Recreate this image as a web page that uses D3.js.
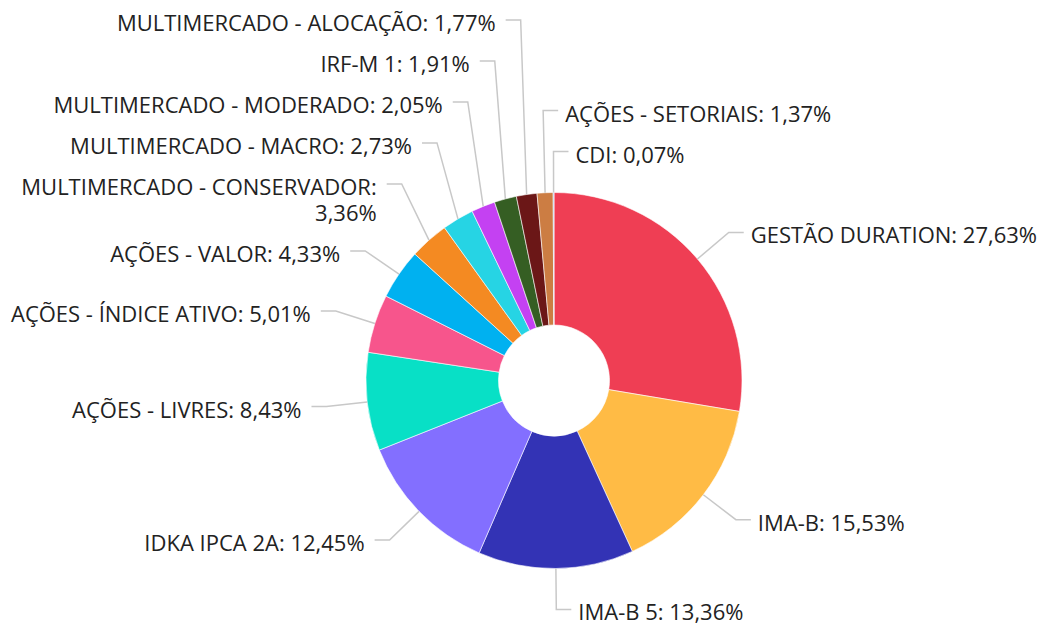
<!DOCTYPE html>
<html>
<head>
<meta charset="utf-8">
<script src="https://cdn.jsdelivr.net/npm/d3@7"></script>
<style>
  body { margin: 0; background: #fff; }
</style>
</head>
<body>
<div id="chart"></div>
<script>
// data
const categories = [
  "GESTÃO DURATION", "IMA-B", "IMA-B 5", "IDKA IPCA 2A", "AÇÕES - LIVRES",
  "AÇÕES - ÍNDICE ATIVO", "AÇÕES - VALOR", "MULTIMERCADO - CONSERVADOR",
  "MULTIMERCADO - MACRO", "MULTIMERCADO - MODERADO", "IRF-M 1",
  "MULTIMERCADO - ALOCAÇÃO", "AÇÕES - SETORIAIS", "CDI"
];
const values = [27.63, 15.53, 13.36, 12.45, 8.43, 5.01, 4.33, 3.36, 2.73, 2.05, 1.91, 1.77, 1.37, 0.07];
const colors = [
  "#ef3e54", "#ffbb45", "#3333b5", "#836fff", "#08e0c6", "#f7558c", "#00b1f0",
  "#f48a22", "#26d4e4", "#c441f2", "#355e23", "#6b1717", "#cc7d43", "#7cb5ec"
];

const width = 1041, height = 625;
const cx = 554, cy = 380.5;
const radius = 188, inner = 55.5;
const labelDist = 41;          // from the rim to the connector elbow
const labelR = radius + labelDist;
const hookLen = 15;            // horizontal part of the connector
const lineSep = 41, lineHeight = 26;

const locale = d3.formatLocale({ decimal: ",", thousands: ".", grouping: [3], currency: ["", ""] });
const fmt = locale.format(".2f");

const data = categories.map((name, i) => ({ name, value: values[i], color: colors[i] }));

const svg = d3.select("#chart")
  .append("svg")
  .attr("width", width)
  .attr("height", height)
  .attr("font-family", "'Open Sans', 'Noto Sans', sans-serif")
  .attr("font-size", 22);

const pie = d3.pie().sort(null).value(d => d.value);
const arcs = pie(data);

const arc = d3.arc().innerRadius(inner).outerRadius(radius);

const g = svg.append("g").attr("transform", `translate(${cx},${cy})`);

g.selectAll("path")
  .data(arcs)
  .join("path")
  .attr("d", arc)
  .attr("fill", d => d.data.color)
  .attr("stroke", "#fff")
  .attr("stroke-width", 0.6);

// label layout: x from the slice's own angle, y pushed apart per side
let labels = arcs.map(d => {
  let mid = (d.startAngle + d.endAngle) / 2;
  let s = Math.sin(mid), c = Math.cos(mid);
  let left = s < -0.1;   // the slices right at the top go to the right side
  return {
    d,
    mid,
    left,
    order: left ? -mid : (mid > Math.PI ? mid - 2 * Math.PI : mid),
    ax: cx + s * radius, ay: cy - c * radius,
    ex: cx + s * labelR,
    y: cy - c * labelR,
    text: `${d.data.name}: ${fmt(d.data.value)}%`,
    lines: null
  };
});

// measure for wrapping
let measure = svg.append("text").attr("visibility", "hidden");
labels.forEach(l => {
  measure.text(l.text);
  let w = measure.node().getComputedTextLength();
  let room = l.left ? l.ex - hookLen - 10 - 5 : width - (l.ex + hookLen + 7) - 2;
  if (w > room) {
    let k = l.text.lastIndexOf(" ");
    l.lines = [l.text.slice(0, k), l.text.slice(k + 1)];
  } else {
    l.lines = [l.text];
  }
});
measure.remove();

[true, false].forEach(side => {
  let list = labels.filter(l => l.left === side).sort((a, b) => a.order - b.order);
  for (let i = list.length - 2; i >= 0; i--) {
    let sep = lineSep + (list[i].lines.length - 1) * lineHeight;
    list[i].y = Math.min(list[i].y, list[i + 1].y - sep);
  }
});

let lg = svg.append("g");

lg.selectAll("path")
  .data(labels)
  .join("path")
  .attr("fill", "none")
  .attr("stroke", "#c8c8c8")
  .attr("stroke-width", 1.5)
  .attr("d", l => {
    let endX = l.ex + (l.left ? -hookLen : hookLen);
    return `M${l.ax},${l.ay}L${l.ex},${l.y}L${endX},${l.y}`;
  });

lg.selectAll("text")
  .data(labels)
  .join("text")
  .attr("fill", "#222")
  .attr("text-anchor", l => l.left ? "end" : "start")
  .attr("x", l => l.ex + (l.left ? -hookLen - 10 : hookLen + 7))
  .attr("y", l => l.y + 11)
  .each(function (l) {
    let t = d3.select(this);
    l.lines.forEach((line, i) => {
      t.append("tspan")
        .attr("x", t.attr("x"))
        .attr("dy", i === 0 ? 0 : lineHeight)
        .text(line);
    });
  });
</script>
</body>
</html>
